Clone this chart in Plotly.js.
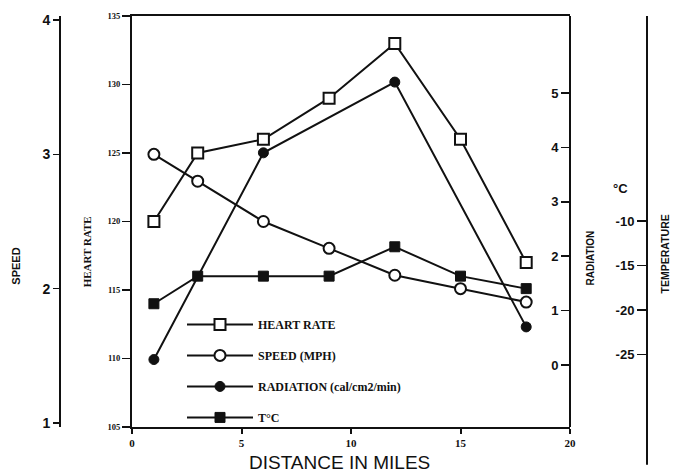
<!DOCTYPE html>
<html>
<head>
<meta charset="utf-8">
<script src="https://cdn.plot.ly/plotly-3.0.1.min.js"></script>
<style>
  html, body { margin: 0; padding: 0; background: #fff; }
  #chart { width: 675px; height: 476px; }
</style>
</head>
<body>
<div id="chart"></div>
<script>
// Distance along the route (miles)
const distance = [1, 3, 6, 9, 12, 15, 18];
// Heart rate (beats/min)
const heartRate = [120, 125, 126, 129, 133, 126, 117];
// Skiing speed (mph)
const speed = [3.0, 2.8, 2.5, 2.3, 2.1, 2.0, 1.9];
// Solar radiation, measured at fewer stations
const radDistance = [1, 6, 12, 18];
const radiation = [0.1, 3.9, 5.2, 0.7];
// Air temperature (°C)
const temperature = [-19.3, -16.2, -16.2, -16.2, -12.9, -16.2, -17.6];

// Axis tick values
const xTicks = [0, 5, 10, 15, 20];
const hrTicks = [105, 110, 115, 120, 125, 130, 135];
const speedTicks = [1, 2, 3, 4];
const radTicks = [0, 1, 2, 3, 4, 5];
const tempTicks = [-25, -20, -15, -10];

const ink = '#111';
const serifBold = { family: 'Liberation Serif, serif', weight: 'bold', color: ink };
const sansBold = { family: 'Liberation Sans, Arial, sans-serif', weight: 'bold', color: ink };

const traces = [
  {
    x: distance, y: heartRate, name: 'HEART RATE', yaxis: 'y', legendgroup: 'hr',
    mode: 'lines+markers', line: { color: ink, width: 2 },
    marker: { symbol: 'square', size: 11, color: '#fff', line: { color: ink, width: 2 } }
  },
  {
    x: distance, y: speed, name: 'SPEED (MPH)', yaxis: 'y2', legendgroup: 'sp',
    mode: 'lines+markers', line: { color: ink, width: 2 },
    marker: { symbol: 'circle', size: 11, color: '#fff', line: { color: ink, width: 2 } }
  },
  {
    x: radDistance, y: radiation, name: 'RADIATION (cal/cm2/min)', yaxis: 'y3', legendgroup: 'rad',
    mode: 'lines+markers', line: { color: ink, width: 2 },
    marker: { symbol: 'circle', size: 10, color: ink, line: { color: ink, width: 1 } }
  },
  {
    x: distance, y: temperature, name: 'T°C', yaxis: 'y4', legendgroup: 'temp',
    mode: 'lines+markers', line: { color: ink, width: 2 },
    marker: { symbol: 'square', size: 10, color: ink, line: { color: ink, width: 1 } }
  }
];

// Horizontal layout in paper fractions of the 675px-wide figure
const plotDomain = [132 / 675, 570 / 675];
const speedAxisX = 60 / 675;
const radAxisX = 570 / 675;
const tempAxisX = 647 / 675;

// Helper for free-floating labels, centred on a point
function label(text, xPx, yFrac, font, angle) {
  return {
    text: text, xref: 'paper', yref: 'paper', x: xPx / 675, y: yFrac,
    xanchor: 'center', yanchor: 'middle', textangle: angle || 0,
    showarrow: false, font: font
  };
}

const layout = {
  width: 675, height: 476,
  paper_bgcolor: '#fff', plot_bgcolor: '#fff',
  margin: { l: 0, r: 0, t: 16, b: 49 },
  showlegend: true,
  legend: {
    x: 182 / 675, y: -0.012, xanchor: 'left', yanchor: 'bottom',
    bgcolor: 'rgba(0,0,0,0)', traceorder: 'grouped', tracegroupgap: 12,
    itemwidth: 66,
    font: Object.assign({ size: 12 }, serifBold)
  },
  xaxis: {
    domain: plotDomain,
    range: [0, 20], tickvals: xTicks, ticktext: xTicks.map(String),
    showgrid: false, zeroline: false, showline: true, mirror: true,
    linecolor: ink, linewidth: 2, ticks: 'outside', ticklen: 5, tickwidth: 2, tickcolor: ink,
    tickfont: Object.assign({ size: 11 }, serifBold)
  },
  yaxis: {
    range: [105, 135], tickvals: hrTicks, ticktext: hrTicks.map(String),
    showgrid: false, zeroline: false, showline: true, linecolor: ink, linewidth: 2,
    ticks: 'outside', ticklen: 8, tickwidth: 1.5, tickcolor: ink,
    tickfont: Object.assign({ size: 8.5 }, serifBold)
  },
  yaxis2: {
    overlaying: 'y', side: 'left', anchor: 'free', position: speedAxisX,
    range: [0.970, 4.030], tickvals: speedTicks, ticktext: speedTicks.map(String),
    showgrid: false, zeroline: false, showline: true, linecolor: ink, linewidth: 2,
    ticks: 'outside', ticklen: 6, tickwidth: 1.5, tickcolor: ink,
    tickfont: Object.assign({ size: 14 }, sansBold)
  },
  yaxis3: {
    // labels sit to the left of the right-hand frame line
    overlaying: 'y', side: 'left', anchor: 'free', position: radAxisX,
    range: [-1.14, 6.415], tickvals: radTicks, ticktext: radTicks.map(String),
    showgrid: false, zeroline: false, showline: true, linecolor: ink, linewidth: 2,
    ticks: 'outside', ticklen: 8, tickwidth: 1.5, tickcolor: ink,
    tickfont: Object.assign({ size: 13 }, sansBold)
  },
  yaxis4: {
    overlaying: 'y', side: 'left', anchor: 'free', position: tempAxisX,
    range: [-33.15, 13.03], tickvals: tempTicks, ticktext: tempTicks.map(String),
    showgrid: false, zeroline: false, showline: false,
    ticks: 'outside', ticklen: 10, tickwidth: 1.5, tickcolor: ink,
    tickfont: Object.assign({ size: 13 }, sansBold)
  },
  shapes: [
    // temperature axis spine, which runs past the bottom of the frame
    { type: 'line', xref: 'paper', yref: 'paper', x0: tempAxisX, x1: tempAxisX,
      y0: -0.092, y1: 1.0, line: { color: ink, width: 2 } }
  ],
  annotations: [
    label('DISTANCE IN MILES', 339, -35 / 411,
          { family: 'Liberation Sans, Arial, sans-serif', size: 19, color: ink }),
    label('SPEED', 16, 0.39, Object.assign({ size: 11 }, sansBold), -90),
    label('HEART RATE', 87, 0.425, Object.assign({ size: 11 }, serifBold), -90),
    label('RADIATION', 590, 0.41, Object.assign({ size: 10 }, sansBold), -90),
    label('°C', 620, 0.58, Object.assign({ size: 13 }, sansBold)),
    label('TEMPERATURE', 665, 0.42, Object.assign({ size: 10.5 }, sansBold), -90)
  ]
};

Plotly.newPlot('chart', traces, layout, { displayModeBar: false, staticPlot: true });
</script>
</body>
</html>
